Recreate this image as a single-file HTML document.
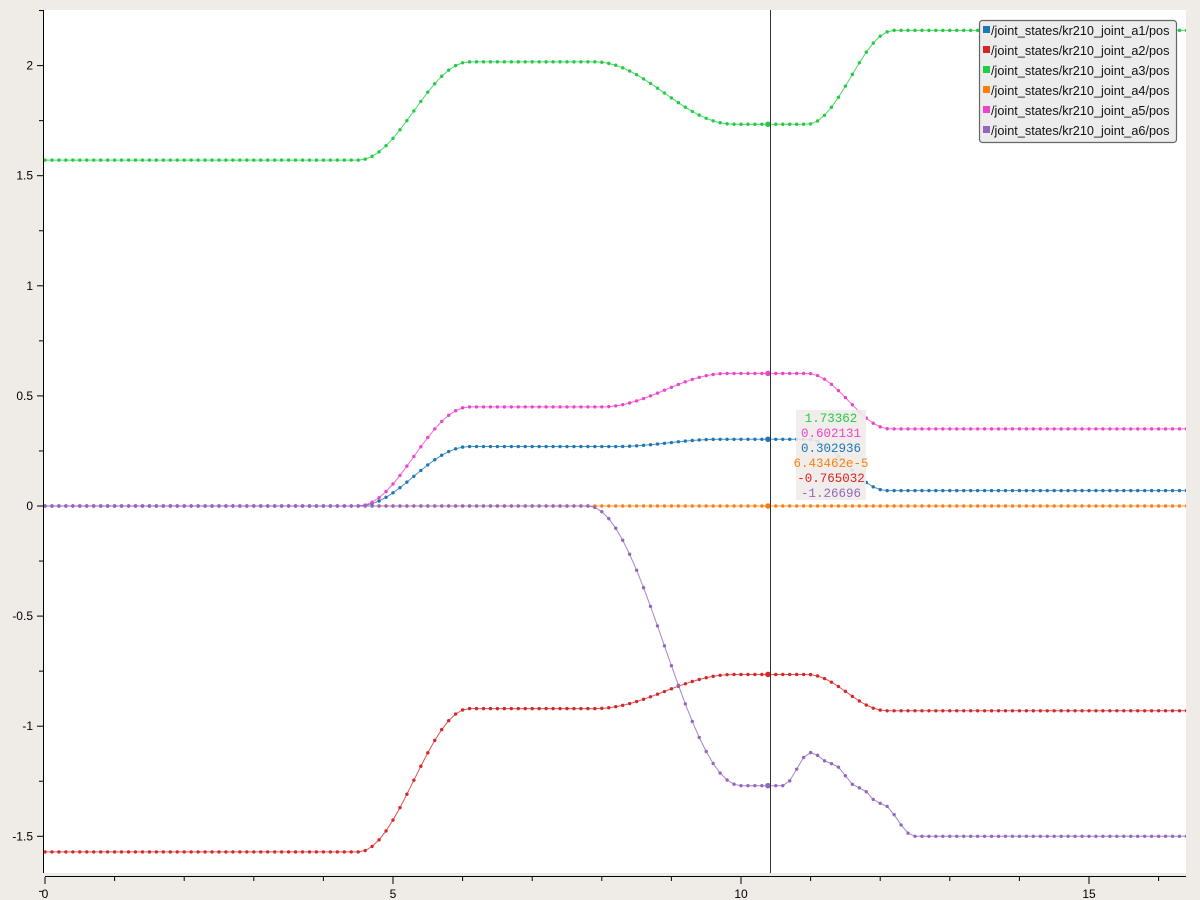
<!DOCTYPE html>
<html><head><meta charset="utf-8"><style>
html,body{margin:0;padding:0;background:#efebe7;}
svg{display:block;font-family:"Liberation Sans","DejaVu Sans",sans-serif;}
</style></head><body>
<svg id="s" width="1200" height="900" viewBox="0 0 1200 900">
<rect x="0" y="0" width="1200" height="900" fill="#efebe7"/>
<rect x="44" y="10" width="1142" height="863" fill="#ffffff"/>
<g id="axes" stroke="#000" stroke-width="1" fill="none"></g>
<g id="labels" font-size="12" fill="#000"></g>
<defs><clipPath id="cp"><rect x="44" y="10" width="1142" height="863"/></clipPath></defs>
<g id="curves" clip-path="url(#cp)"></g>
<line x1="770.5" y1="10" x2="770.5" y2="873" stroke="#333" stroke-width="1"/>
<rect x="796" y="410" width="70" height="90" fill="#eeebe8" opacity="0.9"/>
<g font-family="'Liberation Mono','DejaVu Sans Mono',monospace" font-size="12.5" text-anchor="middle">
<text x="831" y="422" fill="#22cc44">1.73362</text>
<text x="831" y="437" fill="#ee44cc">0.602131</text>
<text x="831" y="452" fill="#1f77b4">0.302936</text>
<text x="831" y="467" fill="#ff7f0e">6.43462e-5</text>
<text x="831" y="482" fill="#dd2222">-0.765032</text>
<text x="831" y="497" fill="#9467bd">-1.26696</text>
</g>
<rect x="979.5" y="20.5" width="197" height="122" rx="3" fill="#ececec" stroke="#666" stroke-width="1.2"/>
<g font-size="12.7" fill="#111">
<rect x="983" y="26" width="7" height="7" fill="#1f77b4"/><text x="991" y="35">/joint_states/kr210_joint_a1/pos</text>
<rect x="983" y="46" width="7" height="7" fill="#d62728"/><text x="991" y="55">/joint_states/kr210_joint_a2/pos</text>
<rect x="983" y="66" width="7" height="7" fill="#22cc44"/><text x="991" y="75">/joint_states/kr210_joint_a3/pos</text>
<rect x="983" y="86" width="7" height="7" fill="#ff7f0e"/><text x="991" y="95">/joint_states/kr210_joint_a4/pos</text>
<rect x="983" y="106" width="7" height="7" fill="#ee44cc"/><text x="991" y="115">/joint_states/kr210_joint_a5/pos</text>
<rect x="983" y="126" width="7" height="7" fill="#9467bd"/><text x="991" y="135">/joint_states/kr210_joint_a6/pos</text>
</g>
</svg>
<script>
var NS="http://www.w3.org/2000/svg";
function el(p,n,a){var e=document.createElementNS(NS,n);for(var k in a)e.setAttribute(k,a[k]);p.appendChild(e);return e;}
function X(t){return 45+t*69.6;}
function Y(v){return 506-v*220.2;}
var ax=document.getElementById('axes'),lb=document.getElementById('labels');
el(ax,'line',{x1:43.5,y1:10,x2:43.5,y2:873});
el(ax,'line',{x1:45,y1:876.5,x2:1186,y2:876.5});
for(var v=-1.75;v<=2.26;v+=0.25){var y=Y(v);var major=Math.abs(v*2-Math.round(v*2))<1e-6;
 el(ax,'line',{x1:major?37:39,y1:y,x2:43,y2:y});
 if(major){var t=el(lb,'text',{x:33,y:y+4,'text-anchor':'end'});t.textContent=(Math.round(v*10)/10).toString();}}
for(var i=0;i<=16;i++){var x=X(i);var major=i%5==0;
 el(ax,'line',{x1:x,y1:877,x2:x,y2:major?884:881});
 if(major){var t=el(lb,'text',{x:x,y:898,'text-anchor':'middle'});t.textContent=i;}}
function seg(keys){return function(t){
 if(t<=keys[0][0])return keys[0][1];
 for(var i=0;i<keys.length-1;i++){var a=keys[i],b=keys[i+1];
  if(t<=b[0]){var u=(t-a[0])/(b[0]-a[0]);u=(1-Math.cos(Math.PI*u))/2;return a[1]+(b[1]-a[1])*u;}}
 return keys[keys.length-1][1];};}
var series=[
 ['#ff7f0e',seg([[0,0],[20,0]])],
 ['#1f77b4',seg([[4.5,0],[6.1,0.27],[8.2,0.27],[9.7,0.303],[10.95,0.303],[12.1,0.07]])],
 ['#ee44cc',seg([[4.5,0],[6.1,0.45],[8.0,0.45],[9.8,0.602],[10.95,0.602],[12.15,0.35]])],
 ['#22cc44',seg([[4.5,1.5708],[6.1,2.017],[7.9,2.017],[9.9,1.7336],[10.95,1.7336],[12.2,2.16]])],
 ['#d62728',seg([[4.5,-1.5708],[6.1,-0.92],[7.9,-0.92],[9.9,-0.765],[10.95,-0.765],[12.1,-0.93]])],
 ['#9467bd',seg([[7.8,0],[10.0,-1.27],[10.6,-1.27],[11.0,-1.12],[11.3,-1.17],[11.7,-1.28],[12.0,-1.35],[12.5,-1.5]])]
];
var cg=document.getElementById('curves');
series.forEach(function(s){var pts=[];var g=el(cg,'g',{fill:s[0]});
 for(var t=0;t<=16.5;t+=0.1){var x=X(t),y=Y(s[1](t));pts.push(x.toFixed(1)+','+y.toFixed(1));el(g,'circle',{cx:x,cy:y,r:1.7});}
 el(cg,'polyline',{points:pts.join(' '),fill:'none',stroke:s[0],'stroke-width':1,opacity:0.8});
 el(cg,'circle',{cx:768,cy:Y(s[1](10.4)),r:2.8,fill:s[0]});
});
</script>
</body></html>
